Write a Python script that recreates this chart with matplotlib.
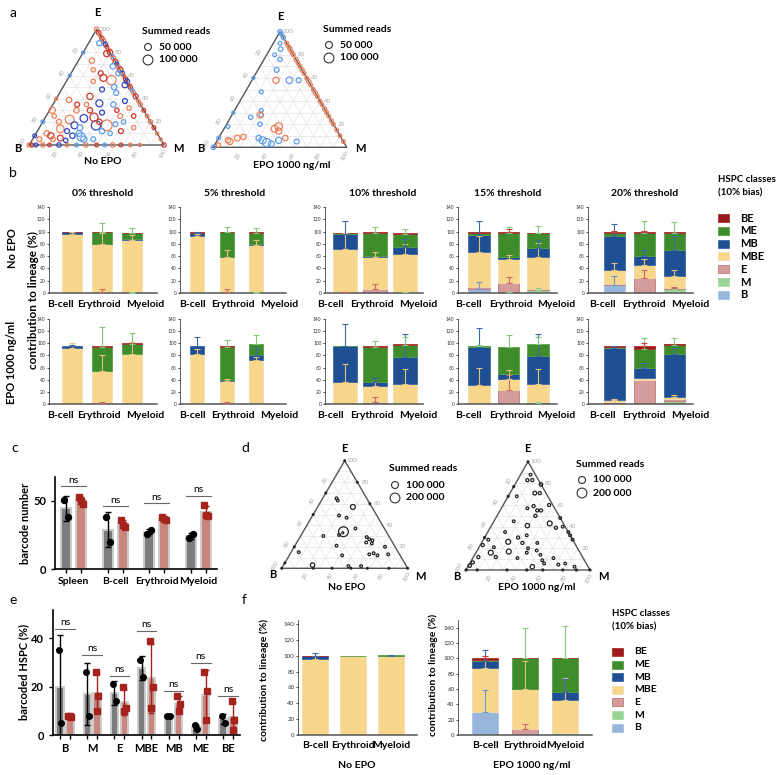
import numpy as np
import matplotlib
matplotlib.use('Agg')
import matplotlib.pyplot as plt
from matplotlib.patches import Rectangle

plt.rcParams['font.family'] = ['Lato', 'DejaVu Sans']
plt.rcParams['font.weight'] = 'bold'

## DATA
lineages = ['B-cell', 'Erythroid', 'Myeloid']
classes = ['B', 'M', 'E', 'MBE', 'MB', 'ME', 'BE']      # stacking order, bottom -> top
thresholds = ['0% threshold', '5% threshold', '10% threshold', '15% threshold', '20% threshold']

# panel b, segment heights per lineage (B, M, E, MBE, MB, ME, BE)
b_noepo = [
    [[0, 0, 0.5, 96, 2, 0, 0.5], [0, 0, 2, 78, 0.5, 18, 1.5], [0, 0.5, 0, 86, 1, 10, 0.5]],
    [[0, 0, 0.5, 93, 4, 0.5, 0.5], [0, 0, 2, 56, 1, 40, 1], [0, 0.5, 0, 77, 1.5, 19, 0.5]],
    [[0, 0, 1, 71, 24, 1, 1], [0, 0, 7, 52, 2, 37, 1], [0, 1, 0, 63, 11, 21, 1]],
    [[7, 0, 2, 57, 29, 2, 2], [0, 1, 15, 39, 4, 38, 2], [2, 3, 1, 52, 15, 24, 1]],
    [[13, 0, 2, 23, 54, 5, 2], [0, 2, 23, 20, 16, 37, 2], [2, 4, 2, 19, 43, 28, 1]],
]
b_noepo_err = [
    [[0, 0, 0, 3, 0, 0, 0], [0, 0, 4, 18, 0, 16, 0], [0, 1, 0, 8, 0, 9, 0]],
    [[0, 0, 0, 2, 1, 0, 0], [0, 0, 4, 12, 0, 9, 0], [0, 1, 0, 8, 0, 8, 0]],
    [[0, 0, 1, 25, 22, 0, 0], [0, 0, 8, 8, 0, 10, 0], [0, 1, 0, 16, 13, 9, 0]],
    [[11, 0, 0, 26, 22, 0, 0], [0, 1, 10, 7, 0, 10, 5], [0, 3, 0, 24, 13, 12, 0]],
    [[15, 0, 0, 11, 20, 0, 2], [0, 0, 13, 10, 9, 19, 1], [0, 2, 2, 11, 22, 17, 0]],
]
b_epo = [
    [[0, 0, 0, 93, 3, 0, 0], [0, 0, 1, 53, 0.5, 40, 1], [0, 0, 0, 83, 0, 16, 1]],
    [[0, 0, 0, 83, 13, 0, 0], [0, 0, 1, 37, 1, 55, 1], [0, 0, 0, 72, 8, 19, 0]],
    [[0, 0, 0, 36, 59, 1, 0], [0, 0, 4, 26, 7, 57, 1], [0, 0, 0, 33, 45, 20, 1]],
    [[2, 0, 0, 30, 62, 2, 0], [0, 0, 23, 18, 8, 45, 0], [0, 2, 1, 30, 46, 20, 0]],
    [[0, 0, 3, 3, 86, 2, 1], [0, 0, 39, 3, 17, 31, 5], [0, 5, 3, 3, 71, 16, 1]],
]
b_epo_err = [
    [[0, 0, 0, 8, 1, 0, 0], [0, 0, 3, 26, 0, 33, 0], [0, 0, 0, 19, 0, 18, 0]],
    [[0, 0, 0, 8, 15, 0, 0], [0, 0, 3, 3, 0, 12, 0], [0, 0, 0, 5, 13, 15, 0]],
    [[0, 0, 0, 30, 36, 0, 0], [0, 0, 7, 7, 5, 10, 0], [0, 0, 0, 24, 38, 13, 0]],
    [[0, 0, 0, 28, 32, 1, 0], [0, 0, 24, 15, 0, 20, 0], [0, 1, 0, 25, 37, 12, 0]],
    [[0, 0, 0, 2, 3, 0, 0], [0, 0, 0, 0, 8, 19, 5], [0, 0, 0, 3, 10, 10, 0]],
]

# panel f
f_noepo = [[0, 0, 0, 96, 3, 0, 1], [0, 0, 0, 99.5, 0, 0.5, 0], [0, 0, 0, 99, 1, 0.5, 0]]
f_noepo_err = [[0, 0, 0, 3, 4, 0, 0], [0, 0, 0, 0, 0, 0, 0], [0, 0, 0, 0, 1, 0, 0]]
f_epo = [[30, 0, 0, 57, 9, 2, 2], [0, 0, 8, 52, 0.5, 39.5, 1], [0, 2, 0, 44, 10, 44, 1]]
f_epo_err = [[29, 0, 0, 16, 15, 0, 3], [0, 0, 7, 36, 0, 40, 0], [0, 0, 0, 29, 17, 42, 0]]

# panel c
c_groups = ['Spleen', 'B-cell', 'Erythroid', 'Myeloid']
c_noepo_pts = [[51, 38], [38, 20], [26, 29], [23, 26]]
c_epo_pts = [[53, 48, 50], [36, 31, 32], [38, 36, 37], [47, 39, 40]]
c_ns_y = [61, 46, 48.5, 54]

# panel e
e_noepo_pts = [[35, 5], [26, 8], [21, 14], [31, 24], [8, 8], [4, 2.5], [8, 5]]
e_epo_pts = [[8, 7.5, 8], [26, 16, 10], [20, 11, 10], [39, 20, 11], [16, 13, 10], [26, 18, 6], [14, 6, 2]]
e_ns_y = [43.7, 33, 24.5, 42.8, 18, 29.7, 16.3]

# ternary points: (M %, E %, summed reads, colour key)
a1_pts = [
    (0, 100, 20000, 'or'), (3, 97, 20000, 'dr'), (5, 95, 15000, 'or'), (8, 92, 20000, 'dr'), (10, 90, 25000, 'or'),
    (13, 87, 20000, 'db'), (15, 85, 15000, 'dr'), (18, 82, 20000, 'or'), (20, 80, 30000, 'dr'), (23, 77, 15000, 'lb'),
    (25, 75, 20000, 'or'), (28, 72, 25000, 'dr'), (30, 70, 15000, 'db'), (33, 67, 20000, 'or'), (35, 65, 30000, 'dr'),
    (38, 62, 20000, 'db'), (40, 60, 15000, 'or'), (43, 57, 20000, 'dr'), (45, 55, 25000, 'db'), (48, 52, 15000, 'or'),
    (50, 50, 20000, 'dr'), (53, 47, 15000, 'lb'), (55, 45, 20000, 'or'), (58, 42, 25000, 'dr'), (62, 38, 15000, 'or'),
    (65, 35, 20000, 'or'), (70, 30, 15000, 'dr'), (75, 25, 15000, 'or'), (80, 20, 20000, 'or'), (85, 15, 15000, 'dr'),
    (90, 10, 10000, 'or'), (95, 5, 10000, 'or'),
    (0, 0, 20000, 'or'), (2, 0, 15000, 'dr'), (5, 0, 15000, 'db'), (10, 0, 20000, 'or'), (15, 0, 15000, 'dr'),
    (22, 0, 20000, 'db'), (28, 0, 15000, 'or'), (35, 0, 15000, 'lb'), (42, 0, 20000, 'or'), (50, 0, 15000, 'dr'),
    (56, 0, 15000, 'lb'), (62, 0, 20000, 'or'), (68, 0, 15000, 'dr'), (75, 0, 15000, 'or'), (82, 0, 10000, 'or'),
    (100, 0, 20000, 'dr'),
    (0, 20, 15000, 'lb'), (0, 40, 10000, 'or'), (0, 60, 10000, 'lb'), (0, 8, 15000, 'db'), (0, 80, 10000, 'lb'),
    (49, 17, 120000, 'or'), (41, 17, 90000, 'db'), (36, 24, 70000, 'dr'), (19, 22, 80000, 'or'), (16, 14, 60000, 'or'),
    (25, 17, 50000, 'db'), (29, 23, 60000, 'db'), (35, 7, 70000, 'lb'), (24, 42, 40000, 'dr'), (34, 36, 50000, 'db'),
    (33, 56, 90000, 'or'), (26, 58, 50000, 'dr'), (10, 73, 30000, 'or'), (18, 79, 40000, 'dr'), (8, 88, 30000, 'lb'),
    (2, 30, 40000, 'or'), (10, 39, 30000, 'or'), (20, 30, 30000, 'or'), (18, 35, 25000, 'dr'), (30, 30, 30000, 'dr'),
    (40, 28, 25000, 'db'), (45, 35, 30000, 'lb'), (50, 30, 20000, 'dr'), (55, 25, 25000, 'or'), (60, 20, 20000, 'lb'),
    (42, 45, 25000, 'lb'), (38, 50, 30000, 'lb'), (30, 48, 25000, 'db'), (20, 55, 20000, 'or'), (45, 52, 35000, 'db'),
    (35, 62, 25000, 'lb'), (28, 68, 30000, 'lb'), (15, 65, 20000, 'or'), (22, 62, 25000, 'dr'), (8, 10, 30000, 'or'),
    (12, 8, 40000, 'dr'), (20, 6, 35000, 'dr'), (28, 8, 30000, 'db'), (32, 10, 35000, 'lb'), (38, 5, 40000, 'lb'),
    (45, 5, 25000, 'lb'), (15, 5, 25000, 'or'), (25, 4, 20000, 'db'), (5, 5, 25000, 'or'), (48, 12, 30000, 'lb'),
    (55, 10, 20000, 'lb'), (62, 12, 25000, 'dr'), (70, 15, 20000, 'or'), (65, 25, 20000, 'dr'), (52, 38, 25000, 'db'),
    (58, 32, 20000, 'or'), (42, 20, 30000, 'dr'), (30, 15, 35000, 'lb'), (22, 12, 25000, 'db'), (12, 20, 25000, 'or'),
    (6, 25, 20000, 'or'), (25, 35, 20000, 'or'), (55, 18, 25000, 'lb'),
]
a2_pts = [
    (10, 90, 15000, 'or'), (13, 87, 15000, 'or'), (15, 85, 20000, 'or'), (18, 82, 15000, 'or'), (20, 80, 15000, 'or'),
    (24, 76, 20000, 'or'), (27, 73, 15000, 'or'), (30, 70, 15000, 'or'), (33, 67, 20000, 'or'), (36, 64, 15000, 'or'),
    (40, 60, 15000, 'or'), (43, 57, 20000, 'or'), (46, 54, 15000, 'or'), (50, 50, 15000, 'or'), (53, 47, 20000, 'or'),
    (56, 44, 15000, 'or'), (60, 40, 15000, 'or'), (63, 37, 15000, 'or'), (67, 33, 20000, 'or'), (70, 30, 15000, 'or'),
    (73, 27, 15000, 'or'), (77, 23, 15000, 'or'), (80, 20, 15000, 'or'), (85, 15, 15000, 'or'), (90, 10, 15000, 'or'),
    (95, 5, 15000, 'or'),
    (0, 100, 20000, 'lb'), (2, 98, 15000, 'lb'), (5, 95, 20000, 'lb'), (5, 90, 15000, 'lb'), (8, 85, 20000, 'lb'),
    (6, 80, 15000, 'lb'), (12, 76, 20000, 'lb'), (14, 67, 25000, 'lb'), (18, 58, 40000, 'or'), (28, 58, 45000, 'lb'),
    (35, 58, 25000, 'lb'), (12, 48, 15000, 'lb'), (20, 32, 15000, 'lb'), (22, 28, 20000, 'lb'), (15, 26, 20000, 'lb'),
    (25, 20, 20000, 'lb'), (21, 28, 40000, 'or'), (40, 18, 60000, 'or'), (38, 16, 50000, 'or'), (42, 14, 40000, 'or'),
    (18, 9, 30000, 'or'), (14, 8, 35000, 'or'), (10, 5, 40000, 'or'), (8, 6, 30000, 'or'), (30, 8, 30000, 'lb'),
    (38, 4, 70000, 'lb'), (34, 6, 50000, 'lb'), (46, 6, 40000, 'lb'), (50, 8, 30000, 'or'), (60, 5, 25000, 'lb'),
    (42, 3, 35000, 'lb'), (0, 30, 10000, 'lb'), (2, 18, 15000, 'lb'), (0, 8, 15000, 'lb'), (0, 0, 20000, 'lb'),
    (3, 2, 20000, 'or'), (0, 60, 10000, 'lb'),
]
d1_pts = [
    (0, 100, 6000), (0, 70, 6000), (0, 50, 6000), (0, 20, 6000), (0, 5, 6000), (0, 0, 6000), (20, 80, 6000),
    (40, 60, 6000), (100, 0, 6000), (25, 0, 6000), (40, 0, 6000), (55, 0, 6000), (68, 0, 6000), (85, 0, 6000),
    (11, 65, 15000), (13, 63, 15000), (28, 57, 50000), (21, 49, 15000), (28, 47, 15000), (32, 34, 200000),
    (32, 33, 8000), (30, 31, 15000), (53, 29, 15000), (56, 27, 15000), (59, 26, 15000), (55, 24, 15000),
    (60, 23, 15000), (72, 20, 15000), (63, 13, 15000), (66, 14, 15000), (70, 12, 15000), (78, 13, 15000),
    (33, 21, 15000), (42, 12, 15000), (6, 15, 15000), (23, 3, 40000), (52, 2, 15000), (62, 2, 15000),
    (18, 30, 15000), (40, 37, 15000),
]
d2_pts = [
    (0, 100, 6000), (8, 88, 15000), (8, 83, 20000), (12, 83, 20000), (21, 79, 25000), (20, 71, 30000),
    (24, 71, 20000), (7, 68, 15000), (0, 77, 8000), (0, 68, 8000), (37, 60, 20000), (25, 59, 20000),
    (21, 57, 15000), (30, 55, 20000), (33, 55, 20000), (31, 50, 20000), (52, 48, 15000), (16, 45, 15000),
    (29, 41, 40000), (46, 43, 50000), (53, 39, 20000), (58, 40, 15000), (65, 35, 15000), (68, 32, 15000),
    (72, 28, 15000), (21, 26, 50000), (27, 30, 20000), (33, 25, 20000), (33, 32, 15000), (41, 16, 15000),
    (26, 17, 50000), (12, 16, 50000), (12, 21, 15000), (4, 28, 15000), (2, 23, 20000), (4, 12, 20000),
    (2, 7, 20000), (1, 4, 25000), (0, 30, 8000), (0, 0, 8000), (36, 11, 15000), (52, 3, 40000),
    (57, 9, 15000), (60, 6, 15000), (65, 11, 15000), (72, 5, 15000), (77, 6, 15000), (86, 3, 15000),
    (53, 14, 15000), (48, 18, 15000), (9, 0, 8000), (33, 0, 8000), (49, 0, 8000), (62, 0, 8000),
    (78, 0, 8000), (89, 0, 8000), (100, 0, 8000), (40, 20, 15000), (18, 12, 20000), (14, 35, 15000),
    (45, 25, 15000),
]

## STYLE
seg_col = {'B': '#97b6dc', 'M': '#98d494', 'E': '#d49c9a', 'MBE': '#f8d68c',
           'MB': '#1f4f93', 'ME': '#3e8c2c', 'BE': '#9b1b1b'}
seg_edge = {'B': '#a9c3e3', 'M': '#a9dca6', 'E': '#c07878', 'MBE': '#f6dfae',
            'MB': '#3b68a8', 'ME': '#58a048', 'BE': '#a83030'}
err_col = {'B': '#6e98cc', 'M': '#8ccf8a', 'E': '#c86a6a', 'MBE': '#e3c27e',
           'MB': '#3a6aa8', 'ME': '#86c878', 'BE': '#c04040'}
tern_col = {'dr': '#cf3a2e', 'or': '#ec8058', 'db': '#3148c4', 'lb': '#5e9eea'}

W, H = 779, 775
fig = plt.figure(figsize=(W / 100, H / 100), dpi=100)
SQ = np.sqrt(3) / 2


def add_ax(x0, y0, x1, y1):
    return fig.add_axes([x0 / W, 1 - y1 / H, (x1 - x0) / W, (y1 - y0) / H])


def txt(x, y, s, **kw):
    kw.setdefault('ha', 'center')
    kw.setdefault('va', 'center')
    fig.text(x / W, 1 - y / H, s, **kw)


# overlay for legend markers
ov = fig.add_axes([0, 0, 1, 1])
ov.set_xlim(0, W)
ov.set_ylim(H, 0)
ov.axis('off')


def ternary(box, pts, scale, colors=None):
    ax = add_ax(*box)
    ax.set_xlim(0, 1)
    ax.set_ylim(0, SQ)
    ax.axis('off')
    for v in np.arange(0.1, 1.0, 0.1):
        kw = dict(color='#e4e4e4', lw=0.5, zorder=0)
        ax.plot([v / 2, 1 - v / 2], [v * SQ, v * SQ], **kw)
        ax.plot([v, v + (1 - v) / 2], [0, (1 - v) * SQ], **kw)
        ax.plot([1 - v, (1 - v) / 2], [0, (1 - v) * SQ], **kw)
    ax.plot([0, 1, 0.5, 0], [0, 0, SQ, 0], color='#555555', lw=1, zorder=1, clip_on=False)
    tk = dict(fontsize=4.5, color='#aaaaaa', weight='normal', ha='center', va='center')
    for v in range(20, 101, 20):
        e = 1 - v / 100
        ax.text(e / 2 - 0.055, e * SQ + 0.02, str(v), rotation=60, **tk)
        e = v / 100
        ax.text(1 - e / 2 + 0.06, e * SQ, str(v), **tk)
        ax.text(v / 100 - 0.01, -0.065, str(v), rotation=60, **tk)
    m = np.array([p[0] for p in pts]) / 100
    e = np.array([p[1] for p in pts]) / 100
    r = np.array([p[2] for p in pts])
    if colors is None:
        ec = '#222222'
    else:
        ec = [colors[p[3]] for p in pts]
    ax.scatter(m + e / 2, e * SQ, s=r / scale, facecolors='none', edgecolors=ec,
               lw=0.9, zorder=3, clip_on=False)
    return ax


def reads_legend(x, y, labels, sizes):
    txt(x, y, 'Summed reads', fontsize=7.5, ha='left')
    for i, (lab, s) in enumerate(zip(labels, sizes)):
        yy = y + 16 + i * 13
        ov.scatter([x + 6], [yy], s=s, facecolors='none', edgecolors='#333333', lw=0.8)
        txt(x + 17, yy, lab, fontsize=7.5, ha='left')


def stacked(ax, segs, errs, width, tick_fs=3.5, labels=True, lab_fs=7.5):
    for j in range(3):
        bottom = 0
        for k, cls in enumerate(classes):
            h = segs[j][k]
            if h > 0:
                ax.bar(j, h, width, bottom=bottom, color=seg_col[cls],
                       edgecolor=seg_edge[cls], lw=0.6, zorder=2)
            if errs[j][k] > 0:
                ax.errorbar(j, bottom + h, yerr=[[0], [errs[j][k]]], fmt='none',
                            ecolor=err_col[cls], elinewidth=0.8, capsize=2.2,
                            capthick=0.8, zorder=3)
            bottom += h
    for s in ['top', 'right']:
        ax.spines[s].set_visible(False)
    ax.spines['left'].set_linewidth(0.6)
    ax.spines['bottom'].set_linewidth(1.1)
    ax.spines['left'].set_color('#444444')
    ax.spines['bottom'].set_color('#555555')
    ax.set_yticks(range(0, 141, 20))
    ax.tick_params(axis='y', labelsize=tick_fs, length=1.5, width=0.5, pad=1, labelcolor='#333333')
    for t in ax.get_yticklabels():
        t.set_fontweight('normal')
    ax.set_xticks(range(3))
    if labels:
        ax.set_xticklabels(lineages, fontsize=lab_fs)
    else:
        ax.set_xticklabels([])
    ax.tick_params(axis='x', length=0, pad=4)


## PANEL a
txt(13, 13, 'a', fontsize=10, weight='normal')
ternary((29.3, 29.3, 164, 145), a1_pts, 2000, tern_col)
txt(97, 13, 'E', fontsize=8)
txt(18, 148, 'B', fontsize=8)
txt(178, 148, 'M', fontsize=8)
txt(103, 162, 'No EPO', fontsize=7.5)
reads_legend(142, 31, ['50 000', '100 000'], [25, 50])

ternary((213.3, 31.7, 346.7, 147.3), a2_pts, 2000, tern_col)
txt(280, 17, 'E', fontsize=8)
txt(201, 149, 'B', fontsize=8)
txt(360, 149, 'M', fontsize=8)
txt(292, 165, 'EPO 1000 ng/ml', fontsize=7.5)
reads_legend(323, 29, ['50 000', '100 000'], [25, 50])

## PANEL b
txt(13, 173, 'b', fontsize=10, weight='normal')
b_xpos = [(49, 157), (180, 286), (325, 423), (458, 557), (588, 693)]
b_xlim = [(-0.77, 2.83), (-0.57, 3.0), (-0.67, 2.6), (-0.7, 2.63), (-0.87, 2.63)]
b_width = [0.67, 0.47, 0.8, 0.73, 0.7]
b_lab_x = [(60, 99, 145), (192, 233, 279), (330, 372, 418), (468, 511, 556), (602, 644, 690)]
title_x = [103, 235, 383, 508, 645]
for i in range(5):
    x0, x1 = b_xpos[i]
    txt(title_x[i], 193, thresholds[i], fontsize=7.5)
    for row, (segs, errs, y0, y1, ylab) in enumerate([(b_noepo, b_noepo_err, 207, 293, 304),
                                                      (b_epo, b_epo_err, 319, 404, 415)]):
        ax = add_ax(x0, y0, x1, y1)
        stacked(ax, segs[i], errs[i], b_width[i], labels=False)
        ax.set_xlim(*b_xlim[i])
        ax.set_ylim(0, 140)
        for lx, lab in zip(b_lab_x[i], lineages):
            txt(lx, ylab, lab, fontsize=7.5)

txt(12, 248, 'No EPO', fontsize=8, rotation=90)
txt(12, 362, 'EPO 1000 ng/ml', fontsize=8, rotation=90)
txt(33, 300, 'contribution to lineage (%)', fontsize=8.5, rotation=90)


def class_legend(x, y, dy, fs):
    txt(x, y, 'HSPC classes', fontsize=7, ha='left')
    txt(x, y + 13, '(10% bias)', fontsize=7, ha='left')
    for i, cls in enumerate(classes[::-1]):
        yy = y + 38 + i * dy
        ov.add_patch(Rectangle((x, yy - 4), 11, 8, facecolor=seg_col[cls],
                               edgecolor=seg_edge[cls], lw=0.6))
        txt(x + 22, yy, cls, fontsize=fs, ha='left')


class_legend(718, 180, 12.8, 8)

## PANEL c
txt(15, 448, 'c', fontsize=10, weight='normal')


def dot_bars(ax, pts_a, pts_b, offs, width, ms):
    for i in range(len(pts_a)):
        for pts, dx, fc, ec, mk in [(pts_a[i], -offs, '#7d7d7d', 'black', 'o'),
                                    (pts_b[i], offs, '#c9867f', '#a5231d', 's')]:
            v = np.array(pts, dtype=float)
            mu, sd = v.mean(), v.std(ddof=1)
            ax.bar(i + dx, mu, width, color=fc, edgecolor='#cccccc', lw=1.4, zorder=1)
            ax.errorbar(i + dx, mu, yerr=sd, fmt='none', ecolor=ec, elinewidth=1,
                        capsize=2.5, capthick=1, zorder=2)
            jit = [-0.05, 0.05, 0.0][:len(v)]
            ax.plot(i + dx + np.array(jit), v, mk, color=ec, ms=ms, zorder=3, clip_on=False)
    for s in ['top', 'right']:
        ax.spines[s].set_visible(False)
    for s in ['left', 'bottom']:
        ax.spines[s].set_linewidth(1.2)
    n = len(pts_a)
    ax.set_xticks(np.arange(n))
    ax.set_xticks(np.concatenate([np.arange(n) - offs, np.arange(n) + offs]), minor=True)
    ax.tick_params(axis='x', which='major', length=0, pad=6)
    ax.tick_params(axis='x', which='minor', length=3, width=1)
    ax.tick_params(axis='y', length=3, width=1, labelsize=8)


ax = add_ax(55, 477, 217, 569)
dot_bars(ax, c_noepo_pts, c_epo_pts, 0.18, 0.25, 4.3)
for i, y in enumerate(c_ns_y):
    ax.plot([i - 0.3, i + 0.3], [y, y], color='#666666', lw=0.8)
    ax.text(i, y + 1, 'ns', fontsize=7.5, ha='center', va='bottom', weight='normal')
ax.set_xlim(-0.45, 3.45)
ax.set_ylim(0, 67.6)
ax.set_yticks([0, 50])
ax.set_xticklabels(c_groups, fontsize=7.5)
txt(26, 523, 'barcode number', fontsize=8, rotation=90)

## PANEL d
txt(245, 448, 'd', fontsize=10, weight='normal')
ternary((281.7, 460.7, 407.7, 568.3), d1_pts, 4000)
txt(344, 449, 'E', fontsize=8)
txt(273, 574, 'B', fontsize=8)
txt(420, 576, 'M', fontsize=8)
txt(347, 587, 'No EPO', fontsize=7.5)
reads_legend(389, 469, ['100 000', '200 000'], [25, 50])

ternary((466, 461.7, 590, 570), d2_pts, 4000)
txt(527, 449, 'E', fontsize=8)
txt(457, 576, 'B', fontsize=8)
txt(603, 577, 'M', fontsize=8)
txt(537, 588, 'EPO 1000 ng/ml', fontsize=7.5)
reads_legend(576, 464, ['100 000', '200 000'], [25, 50])

## PANEL e
txt(13, 600, 'e', fontsize=10, weight='normal')
ax = add_ax(53, 610, 240, 735)
dot_bars(ax, e_noepo_pts, e_epo_pts, 0.18, 0.27, 4)
for i, y in enumerate(e_ns_y):
    ax.plot([i - 0.36, i + 0.36], [y, y], color='#666666', lw=0.8)
    ax.text(i, y + 0.8, 'ns', fontsize=7.5, ha='center', va='bottom', weight='normal')
ax.set_xlim(-0.44, 6.44)
ax.set_ylim(0, 51.6)
ax.set_yticks([0, 20, 40])
ax.set_xticklabels(classes, fontsize=8)
txt(24, 672, 'barcoded HSPC (%)', fontsize=8, rotation=90)

## PANEL f
txt(244, 600, 'f', fontsize=10, weight='normal')
ax = add_ax(298, 620, 417, 735)
stacked(ax, f_noepo, f_noepo_err, 0.68, tick_fs=4.5, lab_fs=7.5)
ax.set_xlim(-0.45, 2.67)
ax.set_ylim(0, 145)
txt(264, 680, 'contribution to lineage (%)', fontsize=7.5, rotation=90)
txt(357, 765, 'No EPO', fontsize=7.5)

ax = add_ax(458, 620, 592, 735)
stacked(ax, f_epo, f_epo_err, 0.65, tick_fs=4.5, lab_fs=7.5)
ax.set_xlim(-0.675, 2.675)
ax.set_ylim(0, 150)
txt(433, 675, 'contribution to lineage (%)', fontsize=7.5, rotation=90)
txt(532, 766, 'EPO 1000 ng/ml', fontsize=7.5)

class_legend(612, 614, 12.6, 7.5)

fig.savefig('out.png', dpi=100)
